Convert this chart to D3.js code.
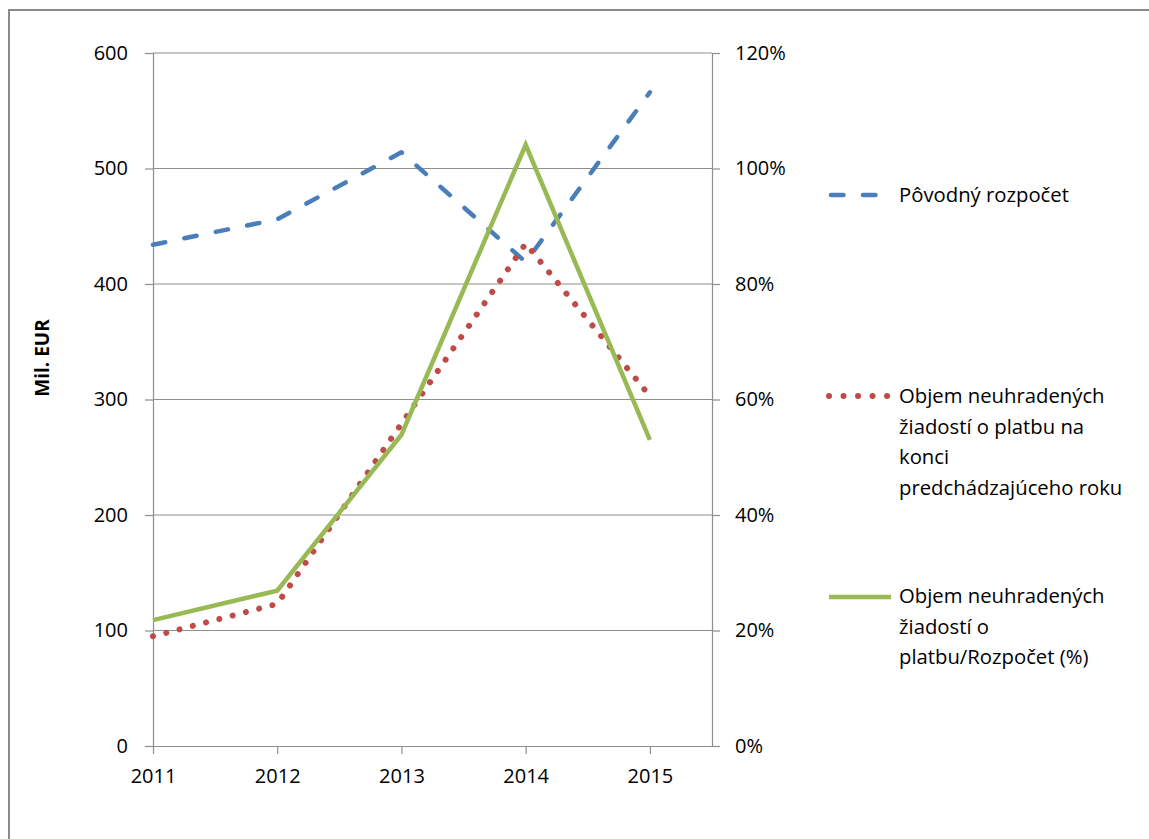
<!DOCTYPE html>
<html><head><meta charset="utf-8">
<script src="https://cdn.jsdelivr.net/npm/d3@7"></script>
<style>
html,body{margin:0;padding:0;background:#fff;}
svg{display:block;}
text{font-family:"Open Sans",Lato,sans-serif;fill:#000;}
</style></head>
<body>
<svg id="c" width="1149" height="839"></svg>
<script>
const years = ["2011","2012","2013","2014","2015"];
const budget = [434, 456, 514, 419, 566];          // Pôvodný rozpočet (Mil. EUR)
const unpaid = [95, 123, 279, 435, 303];           // Objem neuhradených žiadostí (Mil. EUR)
const ratio = [0.218, 0.269, 0.539, 1.041, 0.53];  // Objem / Rozpočet (%)
const leftTicks = [0,100,200,300,400,500,600];
const rightTicks = [0,0.2,0.4,0.6,0.8,1.0,1.2];
const legendLabels = [
  ["Pôvodný rozpočet"],
  ["Objem neuhradených","žiadostí o platbu na","konci","predchádzajúceho roku"],
  ["Objem neuhradených","žiadostí o","platbu/Rozpočet (%)"]
];
const yTitle = "Mil. EUR";

const svg = d3.select("#c");
const colors = {blue:"#4A7EBB", red:"#BE4B48", green:"#98B954", grid:"#8E8E8E"};
const FONT = "'Open Sans', Lato, sans-serif";

svg.append("rect").attr("x",9).attr("y",10).attr("width",1200).attr("height",900)
  .attr("fill","none").attr("stroke","#8a8a8a").attr("stroke-width",2);

const x = d3.scaleLinear().domain([0,4.5]).range([153,712]);
const yL = d3.scaleLinear().domain([0,600]).range([746,53]);
const yR = d3.scaleLinear().domain([0,1.2]).range([746,53]);

// gridlines
svg.append("g").selectAll("line").data(leftTicks.filter(d=>d>0)).join("line")
  .attr("x1",153).attr("x2",712).attr("y1",d=>yL(d)).attr("y2",d=>yL(d))
  .attr("stroke",colors.grid).attr("stroke-width",1.2);

// left axis
const gL = svg.append("g").attr("transform","translate(153,0)")
  .call(d3.axisLeft(yL).tickValues(leftTicks).tickSize(8).tickPadding(17).tickFormat(d3.format("d")));
// right axis
const gR = svg.append("g").attr("transform","translate(712,0)")
  .call(d3.axisRight(yR).tickValues(rightTicks).tickSize(8).tickPadding(15).tickFormat(d3.format(".0%")));
// bottom axis
const gB = svg.append("g").attr("transform","translate(0,746)")
  .call(d3.axisBottom(x).tickValues([0,1,2,3,4]).tickSize(8).tickPadding(15).tickFormat(i=>years[i]));
[gL,gR,gB].forEach(g=>{
  g.select(".domain").attr("stroke",colors.grid).attr("stroke-width",1.2);
  g.selectAll(".tick line").attr("stroke",colors.grid).attr("stroke-width",1.2);
  g.selectAll("text").attr("font-family",FONT).attr("font-size",20).attr("fill","#000");
});
gB.select(".domain").attr("d","M153,0.5H712");

// y title
svg.append("text").attr("transform","translate(49,358) rotate(-90)")
  .attr("text-anchor","middle").attr("font-size",19).attr("font-weight","bold").text(yTitle);

const idx = d3.range(years.length);
const lineL = vals => d3.line().x(i=>x(i)).y(i=>yL(vals[i]))(idx);
const lineR = vals => d3.line().x(i=>x(i)).y(i=>yR(vals[i]))(idx);

svg.append("path").attr("d",lineL(budget)).attr("fill","none").attr("stroke",colors.blue)
  .attr("stroke-width",4.5).attr("stroke-dasharray","12.5 19.5").attr("stroke-linecap","round").attr("stroke-linejoin","round");
svg.append("path").attr("d",lineL(unpaid)).attr("fill","none").attr("stroke",colors.red)
  .attr("stroke-width",6).attr("stroke-dasharray","0.01 13.7").attr("stroke-linecap","round");
svg.append("path").attr("d",lineR(ratio)).attr("fill","none").attr("stroke",colors.green)
  .attr("stroke-width",4.5).attr("stroke-linejoin","miter");

// legend
const lg = svg.append("g");
lg.append("line").attr("x1",831).attr("x2",878).attr("y1",195).attr("y2",195)
  .attr("stroke",colors.blue).attr("stroke-width",4.5).attr("stroke-dasharray","12.5 19.5").attr("stroke-linecap","round");
lg.append("line").attr("x1",829).attr("x2",888).attr("y1",396).attr("y2",396)
  .attr("stroke",colors.red).attr("stroke-width",6).attr("stroke-dasharray","0.01 14.5").attr("stroke-linecap","round");
lg.append("line").attr("x1",829).attr("x2",891).attr("y1",597).attr("y2",597)
  .attr("stroke",colors.green).attr("stroke-width",4.5);
const starts = [202, 403, 603];
legendLabels.forEach((lines,k)=>{
  const t = lg.append("text").attr("x",899).attr("y",starts[k]).attr("font-size",20.3);
  lines.forEach((s,j)=>t.append("tspan").attr("x",899).attr("y",starts[k]+j*30.5).text(s));
});
</script>
</body></html>
